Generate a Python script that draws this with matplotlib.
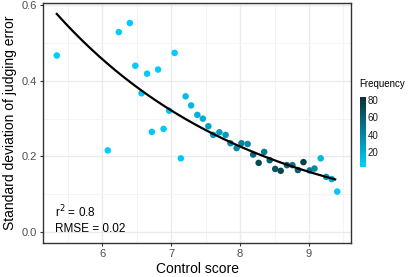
import numpy as np
import matplotlib
matplotlib.use("Agg")
import matplotlib.pyplot as plt
from matplotlib.colors import LinearSegmentedColormap, Normalize
from matplotlib.ticker import MultipleLocator, FormatStrFormatter

plt.rcParams['font.family'] = ['Liberation Sans', 'DejaVu Sans']

# ------------------------------------------------------------
# data
# ------------------------------------------------------------
control_score = [5.34, 6.08, 6.24, 6.40, 6.48, 6.57, 6.65, 6.72, 6.81, 6.89,
                 6.97, 7.05, 7.14, 7.21, 7.29, 7.38, 7.46, 7.54, 7.61, 7.70,
                 7.79, 7.86, 7.95, 8.02, 8.11, 8.19, 8.27, 8.35, 8.43, 8.51,
                 8.59, 8.68, 8.76, 8.84, 8.92, 9.01, 9.08, 9.17, 9.25, 9.33,
                 9.41]
sd_error = [0.467, 0.216, 0.529, 0.553, 0.440, 0.367, 0.419, 0.265, 0.430, 0.273,
            0.321, 0.474, 0.195, 0.359, 0.335, 0.310, 0.300, 0.280, 0.257, 0.264,
            0.257, 0.235, 0.222, 0.235, 0.233, 0.205, 0.183, 0.212, 0.190, 0.167,
            0.162, 0.177, 0.177, 0.164, 0.185, 0.163, 0.168, 0.195, 0.146, 0.140,
            0.107]
frequency = [4, 4, 5, 5, 5, 6, 5, 6, 5, 6,
             7, 5, 6, 12, 14, 18, 20, 25, 30, 27,
             30, 35, 38, 42, 38, 55, 70, 45, 58, 65,
             72, 55, 50, 60, 75, 45, 38, 15, 28, 22,
             8]

r2_text = 'r$^2$ = 0.8'
rmse_text = 'RMSE = 0.02'

x = np.array(control_score)
y = np.array(sd_error)
w = np.array(frequency)

# exponential fit weighted by frequency
b, log_a = np.polyfit(x, np.log(y), 1, w=np.sqrt(w))
xs = np.linspace(x.min(), 9.38, 200)
ys = np.exp(log_a + b * xs)

# ------------------------------------------------------------
# plot
# ------------------------------------------------------------
cmap = LinearSegmentedColormap.from_list('freq', ['#00CFFF', '#0B3034'])
norm = Normalize(vmin=3, vmax=83)

fig = plt.figure(figsize=(4.15, 2.77), dpi=100)
ax = fig.add_axes([43/415, 34/277, 308/415, 240/277])

ax.scatter(x, y, c=w, cmap=cmap, norm=norm, s=22, linewidths=0, zorder=3)
ax.plot(xs, ys, color='black', linewidth=1.6, zorder=4)

ax.set_xlim(5.14, 9.61)
ax.set_ylim(-0.029, 0.606)
ax.xaxis.set_major_locator(MultipleLocator(1))
ax.xaxis.set_minor_locator(MultipleLocator(0.5))
ax.yaxis.set_major_locator(MultipleLocator(0.2))
ax.yaxis.set_minor_locator(MultipleLocator(0.1))
ax.yaxis.set_major_formatter(FormatStrFormatter('%.1f'))

ax.grid(which='major', color='#EBEBEB', linewidth=1.0)
ax.grid(which='minor', color='#F3F3F3', linewidth=0.6)
ax.set_axisbelow(True)
for s in ax.spines.values():
    s.set_color('#333333')
    s.set_linewidth(1.0)
ax.tick_params(which='major', length=2.5, width=0.8, color='#333333',
               labelsize=8, labelcolor='#4D4D4D', pad=2)
ax.tick_params(which='minor', length=0)

ax.set_xlabel('Control score', fontsize=10, labelpad=2)
ax.set_ylabel('Standard deviation of judging error', fontsize=10, labelpad=3)

ax.text(0.04, 0.095, r2_text, transform=ax.transAxes, fontsize=8.5, va='bottom')
ax.text(0.04, 0.035, rmse_text, transform=ax.transAxes, fontsize=8.5, va='bottom')

# colourbar legend
cax = fig.add_axes([360/415, (277-167)/277, 6/415, 70/277])
cb = fig.colorbar(plt.cm.ScalarMappable(norm=norm, cmap=cmap), cax=cax)
cb.set_ticks([20, 40, 60, 80])
cb.outline.set_visible(False)
cax.tick_params(length=0, labelsize=7, labelcolor='#1A1A1A', pad=1)
fig.text(359/415, (277-87)/277, 'Frequency', fontsize=7, va='baseline')

fig.savefig('out.png', dpi=100)
